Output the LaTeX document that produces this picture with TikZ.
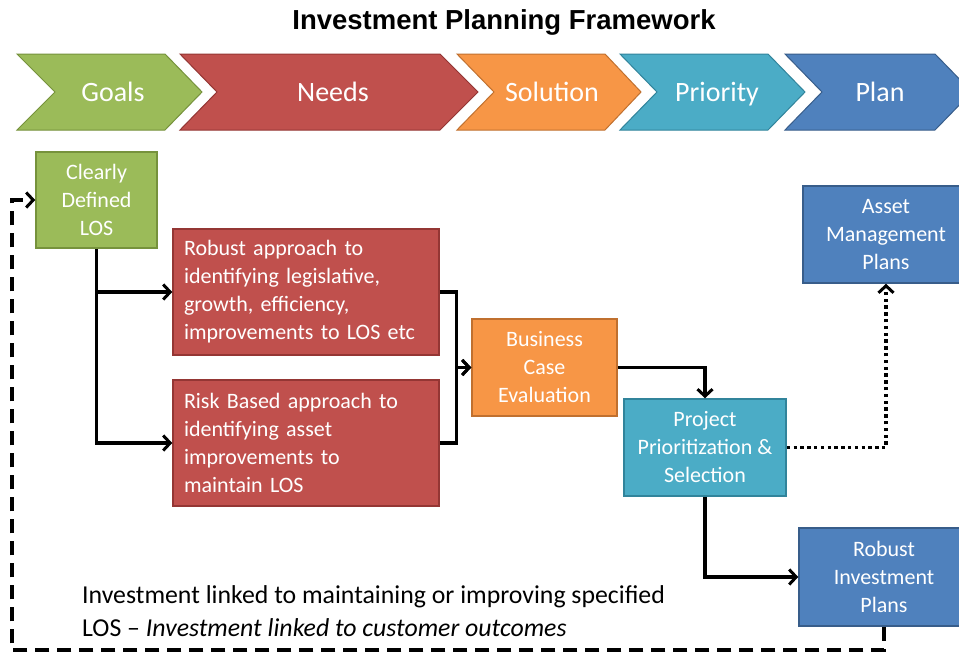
\documentclass[tikz,border=0pt]{standalone}
\usepackage{fontspec}
\setmainfont{Carlito}
\newfontfamily\titlefont{Liberation Sans}
\usetikzlibrary{arrows.meta}
\definecolor{cgreen}{HTML}{9BBB59}\definecolor{cgreenD}{HTML}{76923C}
\definecolor{cred}{HTML}{C0504D}\definecolor{credD}{HTML}{943634}
\definecolor{corange}{HTML}{F79646}\definecolor{corangeD}{HTML}{C0702F}
\definecolor{caqua}{HTML}{4BACC6}\definecolor{caquaD}{HTML}{31849B}
\definecolor{cblue}{HTML}{4F81BD}\definecolor{cblueD}{HTML}{385D8A}
\tikzset{
  chev/.style={line width=1pt},
  chevtext/.style={text=white,font=\fontsize{28}{30}\selectfont,anchor=base},
  box/.style={rectangle,line width=1.5pt,text=white,inner sep=0pt,
    font=\fontsize{22}{28}\selectfont,align=center},
  lbox/.style={box,align=left,text width=244pt},
  tipbarb/.style={-{Straight Barb[length=7pt,width=15pt,line width=3pt]}},
  conn/.style={line width=3.2pt,tipbarb},
  fbline/.style={line width=3.6pt,dash pattern=on 14pt off 8pt,tipbarb},
  dotline/.style={line width=3.4pt,dash pattern=on 3.4pt off 3.4pt,tipbarb},
}
\begin{document}
\begin{tikzpicture}[x=1pt,y=-1pt]
\useasboundingbox (0,0) rectangle (959,653);
\clip (0,0) rectangle (959,653);
\fill[white] (0,0) rectangle (959,653);
% title
\node[anchor=base,font=\titlefont\bfseries\fontsize{27.5}{30}\selectfont] (title) at (504,29) {Investment Planning Framework};
% chevrons
\filldraw[chev,fill=cgreen,draw=cgreenD] (17,54) -- (165,54) -- (202,92) -- (165,130) -- (17,130) -- (55,92) -- cycle;
\filldraw[chev,fill=cred,draw=credD] (180,54) -- (440,54) -- (478,92) -- (440,130) -- (180,130) -- (217,92) -- cycle;
\filldraw[chev,fill=corange,draw=corangeD] (457,54) -- (605,54) -- (641,92) -- (605,130) -- (457,130) -- (494,92) -- cycle;
\filldraw[chev,fill=caqua,draw=caquaD] (620,54) -- (768,54) -- (805,92) -- (768,130) -- (620,130) -- (657,92) -- cycle;
\filldraw[chev,fill=cblue,draw=cblueD] (785,54) -- (935,54) -- (972,92) -- (935,130) -- (785,130) -- (822,92) -- cycle;
\node[chevtext] (goals) at (113,101) {Goals};
\node[chevtext] (needs) at (333,101) {Needs};
\node[chevtext] (solution) at (552,101) {Solution};
\node[chevtext] (priority) at (717,101) {Priority};
\node[chevtext] (plan) at (880,101) {Plan};
% boxes
\node[box,fill=cgreen,draw=cgreenD,minimum width=121pt,minimum height=96pt] (clear) at (96.5,200) {Clearly\\Defined\\LOS};
\node[lbox,fill=cred,draw=credD,minimum width=266pt,minimum height=126pt] (robust) at (306,292) {Robust approach to\\identifying legislative,\\growth, efficiency,\\improvements to LOS etc};
\node[lbox,fill=cred,draw=credD,minimum width=266pt,minimum height=126pt] (risk) at (306,443) {Risk Based approach to\\identifying asset\\improvements to\\maintain LOS};
\node[box,fill=corange,draw=corangeD,minimum width=145pt,minimum height=97pt] (biz) at (544.5,367.5) {Business\\Case\\Evaluation};
\node[box,fill=caqua,draw=caquaD,minimum width=162pt,minimum height=97pt] (proj) at (705,447.5) {Project\\Prioritization \&\\Selection};
\node[box,fill=cblue,draw=cblueD,minimum width=166pt,minimum height=97pt] (asset) at (886,234.5) {Asset\\Management\\Plans};
\node[box,fill=cblue,draw=cblueD,minimum width=170pt,minimum height=98pt] (rip) at (884,577) {Robust\\Investment\\Plans};
% bottom text
\node[anchor=base west,inner sep=0pt,font=\fontsize{25.8}{33}\selectfont] (note1) at (82,603) {Investment linked to maintaining or improving specified};
\node[anchor=base west,inner sep=0pt,font=\fontsize{25.8}{33}\selectfont] (note2) at (82,636) {LOS -- \textit{Investment linked to customer outcomes}};
% connectors
\draw[conn] (clear.south) |- (robust.west);
\draw[conn] (clear.south) |- (risk.west);
\draw[conn] (robust.east) -- ++(17,0) |- (biz.west);
\draw[conn] (risk.east) -- ++(17,0) |- (biz.west);
\draw[conn] (biz.east) -| (proj.north);
\draw[conn] (proj.south) |- (rip.west);
\draw[dotline] (proj.east) -| (asset.south);
\coordinate (fb) at (12,650);
\draw[fbline] (rip.south) |- (fb) |- (clear.west);
\end{tikzpicture}
\end{document}
